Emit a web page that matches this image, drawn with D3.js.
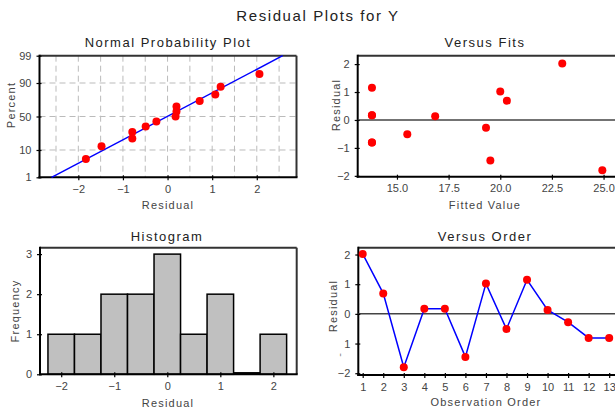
<!DOCTYPE html>
<html><head><meta charset="utf-8">
<script src="https://cdn.jsdelivr.net/npm/d3@7"></script>
<style>
body{margin:0;background:#fff;}
svg{display:block;font-family:"Liberation Sans",Arial,sans-serif;}
</style></head>
<body>
<svg id="c" width="615" height="409"></svg>
<script>
// ---- data ----
const order = [1,2,3,4,5,6,7,8,9,10,11,12,13];
const residuals = [2.02,0.69,-1.80,0.17,0.17,-1.45,1.02,-0.51,1.15,0.13,-0.28,-0.81,-0.81];
const fitted = [23.0,20.32,24.94,13.79,13.79,19.52,20.0,15.5,13.79,16.85,19.31,13.79,13.79];
const npResid = [-1.83,-1.48,-0.79,-0.79,-0.49,-0.25,0.18,0.2,0.2,0.72,1.07,1.19,2.06];
const npPercent = [5.2,12.7,20.1,27.6,35.1,42.5,50,57.5,64.9,72.4,79.9,87.3,94.8];
const npLineX = [-2.6,2.58];
const npLinePct = [1,99];
const pctTicks = [1,10,50,90,99];
const histBins = [-2,-1.5,-1,-0.5,0,0.5,1,1.5,2];
const histCounts = [1,1,2,2,3,1,2,0,1];
const fitTicks = [15,17.5,20,22.5,25];

// inverse normal CDF (Acklam) for probability scale
function probit(p){
  const a=[-39.69683028665376,220.9460984245205,-275.9285104469687,138.3577518672690,-30.66479806614716,2.506628277459239];
  const b=[-54.47609879822406,161.5858368580409,-155.6989798598866,66.80131188771972,-13.28068155211977];
  const c=[-0.007784894002430293,-0.3223964580411365,-2.400758277161838,-2.549732539343734,4.374664141464968,2.938163982698783];
  const d=[0.007784695709041462,0.3224671290700398,2.445134137142996,3.754408661907416];
  const pl=0.02425;let q,r;
  if(p<pl){q=Math.sqrt(-2*Math.log(p));return (((((c[0]*q+c[1])*q+c[2])*q+c[3])*q+c[4])*q+c[5])/((((d[0]*q+d[1])*q+d[2])*q+d[3])*q+1);}
  if(p>1-pl){q=Math.sqrt(-2*Math.log(1-p));return -(((((c[0]*q+c[1])*q+c[2])*q+c[3])*q+c[4])*q+c[5])/((((d[0]*q+d[1])*q+d[2])*q+d[3])*q+1);}
  q=p-0.5;r=q*q;return (((((a[0]*r+a[1])*r+a[2])*r+a[3])*r+a[4])*r+a[5])*q/(((((b[0]*r+b[1])*r+b[2])*r+b[3])*r+b[4])*r+1);
}

const svg = d3.select("#c");
const TXT="#444";
const neg = d=>d<0?"\u2212"+(-d):String(d);

function text(x,y,s,opt={}){
  const t=svg.append("text").attr("x",x).attr("y",y).text(s)
    .attr("text-anchor",opt.anchor||"middle").attr("font-size",opt.size||11)
    .attr("fill",opt.fill||TXT).attr("letter-spacing",opt.ls||0);
  if(opt.rot) t.attr("transform",`rotate(-90,${x},${y})`);
  return t;
}
function styleAxis(g,orient){
  g.select(".domain").remove();
  g.selectAll("text").attr("font-size",11).attr("fill",TXT).attr("font-family","Liberation Sans, Arial, sans-serif");
  g.selectAll("line").attr("stroke","#000").attr("stroke-width",1.2);
  if(orient==="left") g.selectAll(".tick line").attr("x1",2).attr("x2",-3);
  else g.selectAll(".tick line").attr("y1",-2).attr("y2",3);
}
function frame(L,R,T,B){
  svg.append("line").attr("x1",L).attr("x2",R).attr("y1",T).attr("y2",T).attr("stroke","#333").attr("stroke-width",2);
  svg.append("line").attr("x1",R).attr("x2",R).attr("y1",T).attr("y2",B).attr("stroke","#333").attr("stroke-width",2);
  svg.append("line").attr("x1",L).attr("x2",L).attr("y1",T-1).attr("y2",B+1).attr("stroke","#000").attr("stroke-width",2);
  svg.append("line").attr("x1",L-1).attr("x2",R+1).attr("y1",B).attr("y2",B).attr("stroke","#000").attr("stroke-width",2);
}

// main title
text(318,21,"Residual Plots for Y",{size:15,ls:1.6,fill:"#222"});

// ---- Normal Probability Plot ----
{
  const L=39.5,R=296.5,T=55.7,B=177.3;
  const x=d3.scaleLinear().domain([-2.87,2.89]).range([L,R]);
  const yz=d3.scaleLinear().domain([probit(0.01),probit(0.99)]).range([B,T]);
  const y=p=>yz(probit(p/100));
  const g=svg.append("g");
  const vg=[-2.5,-2,-1.5,-1,-0.5,0,0.5,1,1.5,2,2.5];
  g.selectAll(".vg").data(vg).join("line").attr("x1",d=>x(d)).attr("x2",d=>x(d)).attr("y1",T).attr("y2",B)
    .attr("stroke","#bbb").attr("stroke-dasharray","6,4").attr("stroke-width",1);
  g.selectAll(".hg").data([10,50,90]).join("line").attr("x1",L).attr("x2",R).attr("y1",d=>y(d)).attr("y2",d=>y(d))
    .attr("stroke","#bbb").attr("stroke-dasharray","6,4").attr("stroke-width",1);
  frame(L,R,T,B);
  const ya=svg.append("g").attr("transform",`translate(${L},0)`)
    .call(d3.axisLeft(yz).tickValues(pctTicks.map(p=>probit(p/100))).tickFormat((d,i)=>pctTicks[i]).tickSize(3).tickPadding(5));
  styleAxis(ya,"left");
  const xa=svg.append("g").attr("transform",`translate(0,${B})`)
    .call(d3.axisBottom(x).tickValues([-2,-1,0,1,2]).tickFormat(neg).tickSize(3).tickPadding(5));
  styleAxis(xa,"bottom");
  svg.append("path").attr("d",d3.line().x((d,i)=>x(npLineX[i])).y((d,i)=>y(npLinePct[i]))(npLineX))
    .attr("stroke","#0000ff").attr("stroke-width",1.5).attr("fill","none");
  svg.selectAll(".np").data(npResid).join("circle").attr("cx",d=>x(d)).attr("cy",(d,i)=>y(npPercent[i]))
    .attr("r",4).attr("fill","#ff0000");
  text(168,47,"Normal Probability Plot",{size:13,ls:1.5,fill:"#222"});
  text(168,209,"Residual",{size:11,ls:1.2});
  text(15,105,"Percent",{size:11,ls:1.2,rot:true});
}

// ---- Versus Fits ----
{
  const L=357.7,R=617,T=55.7,B=176.7;
  const x=d3.scaleLinear().domain([13.1,25.65]).range([L,R]);
  const y=d3.scaleLinear().domain([-2.03,2.3]).range([B,T]);
  frame(L,R,T,B);
  svg.append("line").attr("x1",L).attr("x2",R).attr("y1",y(0)).attr("y2",y(0)).attr("stroke","#444").attr("stroke-width",1.5);
  const ya=svg.append("g").attr("transform",`translate(${L},0)`)
    .call(d3.axisLeft(y).tickValues([-2,-1,0,1,2]).tickFormat(neg).tickSize(3).tickPadding(5));
  styleAxis(ya,"left");
  const xa=svg.append("g").attr("transform",`translate(0,${B})`)
    .call(d3.axisBottom(x).tickValues(fitTicks).tickFormat(d3.format(".1f")).tickSize(3).tickPadding(5));
  styleAxis(xa,"bottom");
  svg.selectAll(".vf").data(fitted).join("circle").attr("cx",d=>x(d)).attr("cy",(d,i)=>y(residuals[i]))
    .attr("r",4).attr("fill","#ff0000");
  text(485,47,"Versus Fits",{size:13,ls:1.5,fill:"#222"});
  text(485,209,"Fitted Value",{size:11,ls:1.2});
  text(340,105,"Residual",{size:11,ls:1.2,rot:true});
}

// ---- Histogram ----
{
  const L=40,R=296.7,T=247.7,B=374.3;
  const x=d3.scaleLinear().domain([-2.4,2.44]).range([L,R]);
  const y=d3.scaleLinear().domain([0,3.16]).range([B,T]);
  const nz=histBins.map((b,i)=>({b,c:histCounts[i]}));
  svg.selectAll(".hb").data(nz.filter(d=>d.c>0)).join("rect")
    .attr("x",d=>x(d.b-0.25)).attr("width",d=>x(d.b+0.25)-x(d.b-0.25))
    .attr("y",d=>y(d.c)).attr("height",d=>y(0)-y(d.c))
    .attr("fill","#c0c0c0").attr("stroke","#000").attr("stroke-width",1.5);
  svg.selectAll(".hz").data(nz.filter(d=>d.c===0)).join("line")
    .attr("x1",d=>x(d.b-0.25)).attr("x2",d=>x(d.b+0.25)).attr("y1",y(0)-1).attr("y2",y(0)-1)
    .attr("stroke","#000").attr("stroke-width",2.5);
  frame(L,R,T,B);
  const ya=svg.append("g").attr("transform",`translate(${L},0)`)
    .call(d3.axisLeft(y).tickValues([0,1,2,3]).tickFormat(d3.format("d")).tickSize(3).tickPadding(5));
  styleAxis(ya,"left");
  const xa=svg.append("g").attr("transform",`translate(0,${B})`)
    .call(d3.axisBottom(x).tickValues([-2,-1,0,1,2]).tickFormat(neg).tickSize(3).tickPadding(5));
  styleAxis(xa,"bottom");
  text(167,241,"Histogram",{size:13,ls:1.5,fill:"#222"});
  text(168,407,"Residual",{size:11,ls:1.2});
  text(19,311,"Frequency",{size:11,ls:1.2,rot:true});
}

// ---- Versus Order ----
{
  const L=358.3,R=617,T=247.7,B=375;
  const x=d3.scaleLinear().domain([0.786,13.38]).range([L,R]);
  const y=d3.scaleLinear().domain([-2.06,2.23]).range([B,T]);
  frame(L,R,T,B);
  svg.append("line").attr("x1",L).attr("x2",R).attr("y1",y(0)).attr("y2",y(0)).attr("stroke","#444").attr("stroke-width",1.5);
  const ya=svg.append("g").attr("transform",`translate(${L},0)`)
    .call(d3.axisLeft(y).tickValues([-2,-1,0,1,2]).tickFormat(d=>d===-2?"\u22122":String(Math.abs(d))).tickSize(3).tickPadding(5));
  styleAxis(ya,"left");
  const xa=svg.append("g").attr("transform",`translate(0,${B})`)
    .call(d3.axisBottom(x).tickValues(order).tickSize(3).tickPadding(5));
  styleAxis(xa,"bottom");
  svg.append("path").attr("d",d3.line().x(d=>x(d)).y((d,i)=>y(residuals[i]))(order))
    .attr("stroke","#0000ff").attr("stroke-width",1.5).attr("fill","none");
  svg.selectAll(".vo").data(order).join("circle").attr("cx",d=>x(d)).attr("cy",(d,i)=>y(residuals[i]))
    .attr("r",4).attr("fill","#ff0000");
  text(485,241,"Versus Order",{size:13,ls:1.5,fill:"#222"});
  text(486,406,"Observation Order",{size:11,ls:1.2});
  text(337,306,"Residual",{size:11,ls:1.2,rot:true});
  text(343,355,"-",{size:11,fill:"#888",rot:true});
}
</script>
</body></html>
